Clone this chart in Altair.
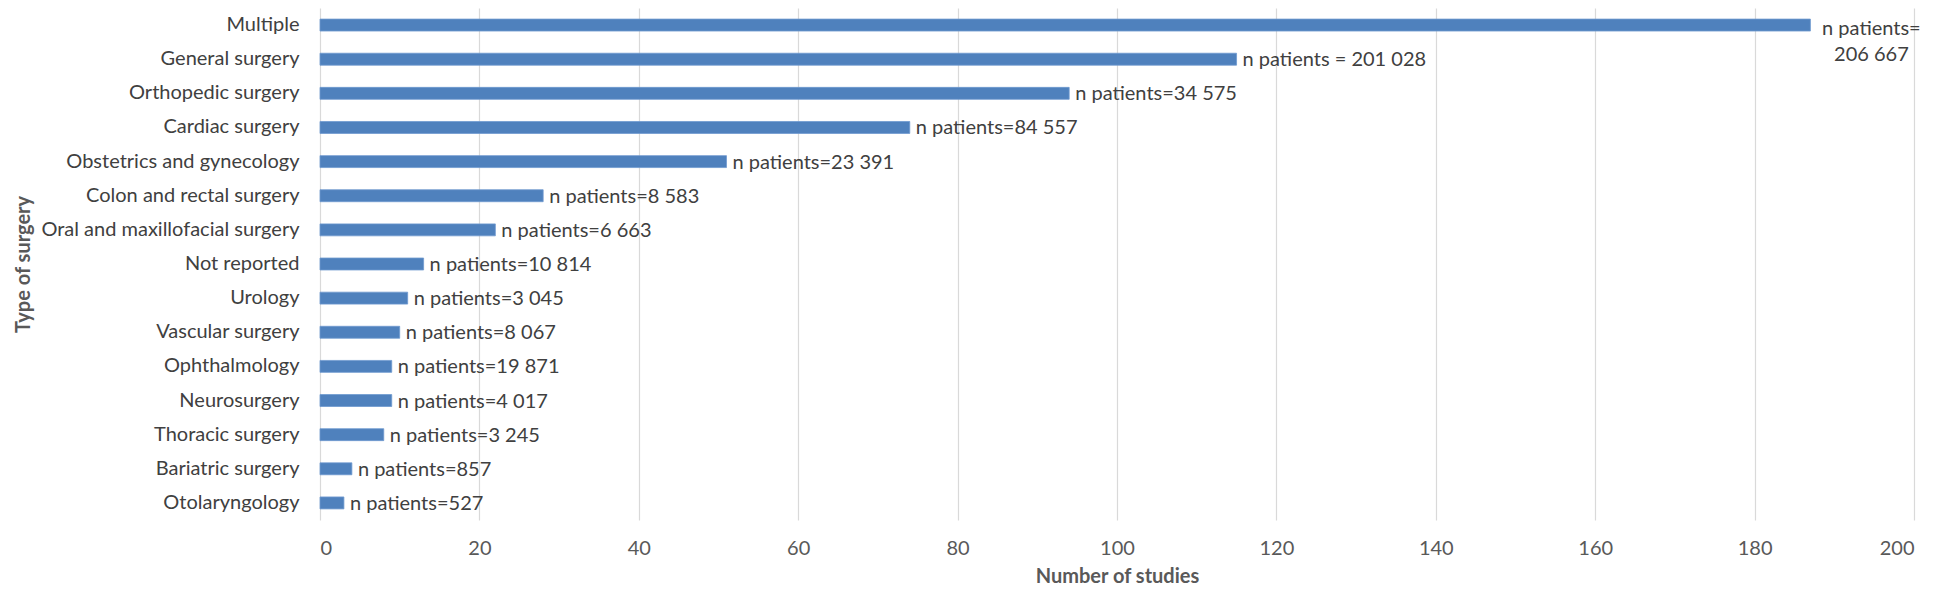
import altair as alt
import pandas as pd

categories = [
    "Multiple", "General surgery ", "Orthopedic surgery", "Cardiac surgery",
    "Obstetrics and gynecology", "Colon and rectal surgery",
    "Oral and maxillofacial surgery", "Not reported", "Urology",
    "Vascular surgery", "Ophthalmology", "Neurosurgery", "Thoracic surgery",
    "Bariatric surgery", "Otolaryngology",
]
studies = [187, 115, 94, 74, 51, 28, 22, 13, 11, 10, 9, 9, 8, 4, 3]
labels = [
    "n patients=\n206 667", "n patients = 201 028", "n patients=34 575",
    "n patients=84 557", "n patients=23 391", "n patients=8 583",
    "n patients=6 663", "n patients=10 814", "n patients=3 045",
    "n patients=8 067", "n patients=19 871", "n patients=4 017",
    "n patients=3 245", "n patients=857", "n patients=527",
]
x_ticks = list(range(0, 201, 20))

df = pd.DataFrame({"category": categories, "studies": studies, "label": labels})

FONT = "Lato"
BAR = "#4f81bd"
H = 512

y_enc = alt.Y(
    "category:N",
    sort=categories,
    title="Type of surgery",
    scale=alt.Scale(paddingInner=0.65, paddingOuter=0.325),
    axis=alt.Axis(
        labelFontSize=20, labelColor="#404040", labelPadding=21,
        ticks=False, domain=False, grid=False,
        titleFontSize=20, titleFontWeight="bold", titleColor="#595959",
        titleX=-297, titleY=H / 2, titleAngle=270, titleBaseline="middle",
        titleAlign="center", labelLimit=400,
    ),
)
x_enc = alt.X(
    "studies:Q",
    title="Number of studies",
    scale=alt.Scale(domain=[0, 200], nice=False),
    axis=alt.Axis(
        values=x_ticks, labelFontSize=20, labelColor="#595959",
        labelPadding=18, ticks=False, domain=False, grid=True,
        gridColor="#d9d9d9", gridWidth=1.2,
        titleFontSize=20, titleFontWeight="bold", titleColor="#595959",
        titlePadding=8,
    ),
)

base = alt.Chart(df)

bars = base.mark_bar(color=BAR, stroke="#6e99cf", strokeWidth=0.8).encode(
    x=x_enc, y=y_enc
)

text_main = base.transform_filter(
    alt.datum.category != "Multiple"
).mark_text(
    align="left", baseline="middle", dx=6, dy=1, fontSize=20, color="#404040"
).encode(
    x=alt.X("studies:Q"), y=alt.Y("category:N", sort=categories), text="label:N"
)

text_multi = base.transform_filter(
    alt.datum.category == "Multiple"
).mark_text(
    align="center", baseline="middle", dx=61, dy=4, fontSize=20,
    color="#404040", lineBreak="\n", lineHeight=26
).encode(
    x=alt.X("studies:Q"), y=alt.Y("category:N", sort=categories), text="label:N"
)

chart = alt.layer(bars, text_main, text_multi).properties(
    width=1594, height=H,
    padding={"left": 5, "top": 0, "right": 0, "bottom": 0},
).configure(font=FONT).configure_view(stroke=None)

chart.save("out.html", embed_options={"renderer": "svg", "actions": False})
